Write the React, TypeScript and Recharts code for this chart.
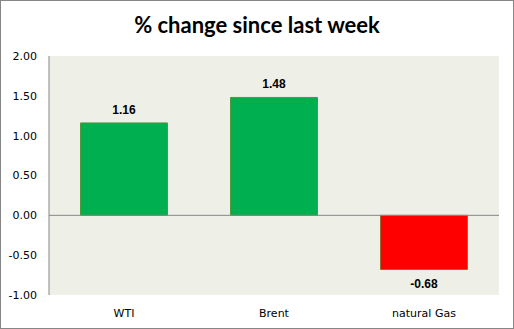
import { BarChart, Bar, XAxis, YAxis, CartesianGrid, ReferenceLine, LabelList, Cell } from "recharts";

const categories = ["WTI", "Brent", "natural Gas"];
const changes = [1.16, 1.48, -0.68];
const yTicks = [-1, -0.5, 0, 0.5, 1, 1.5, 2];

const chartData = categories.map((name, i) => ({ name, change: changes[i] }));

const axisFont = { fontFamily: "DejaVu Sans", fontSize: 11, fill: "#000" };

// value labels: above positive bars, below negative ones
function ValueLabel(props: any) {
  const { x, y, width, height, value } = props;
  const top = Math.min(y, y + height);
  const bottom = Math.max(y, y + height);
  const ty = value >= 0 ? top - 9 : bottom + 18;
  return (
    <text
      x={x + width / 2}
      y={ty}
      textAnchor="middle"
      fontFamily="Liberation Sans"
      fontSize={12}
      fontWeight="bold"
      fill="#000"
    >
      {Number(value).toFixed(2)}
    </text>
  );
}

export default function App() {
  return (
    <div
      style={{
        position: "absolute",
        left: 0,
        top: 0,
        width: 514,
        height: 329,
        boxSizing: "border-box",
        border: "1px solid #868686",
        background: "#fff",
      }}
    >
      <div
        style={{
          position: "absolute",
          left: 0,
          top: 10,
          width: 512,
          textAlign: "center",
          fontFamily: "Lato",
          fontWeight: "bold",
          fontSize: 22,
          color: "#000",
        }}
      >
        % change since last week
      </div>
      <div style={{ position: "absolute", left: -1, top: -1 }}>
        <BarChart
          width={514}
          height={329}
          data={chartData}
          margin={{ top: 56, right: 15, bottom: 4, left: 0 }}
          barCategoryGap="21%"
        >
          <CartesianGrid horizontal={false} vertical={false} fill="#EEF0E8" />
          <XAxis
            dataKey="name"
            axisLine={false}
            tickLine={false}
            height={30}
            tickMargin={8}
            tick={axisFont}
          />
          <YAxis
            width={49}
            domain={[-1, 2]}
            ticks={yTicks}
            tickFormatter={(v: number) => v.toFixed(2)}
            axisLine={{ stroke: "#868686" }}
            tickLine={false}
            tickMargin={6}
            tick={axisFont}
          />
          <ReferenceLine y={0} stroke="#868686" />
          <Bar dataKey="change" isAnimationActive={false}>
            {chartData.map((d) => (
              <Cell
                key={d.name}
                fill={d.change >= 0 ? "#00B050" : "#FF0000"}
                stroke={d.change >= 0 ? "#4E9A3A" : "#9C6A30"}
              />
            ))}
            <LabelList dataKey="change" content={ValueLabel} />
          </Bar>
        </BarChart>
      </div>
    </div>
  );
}
